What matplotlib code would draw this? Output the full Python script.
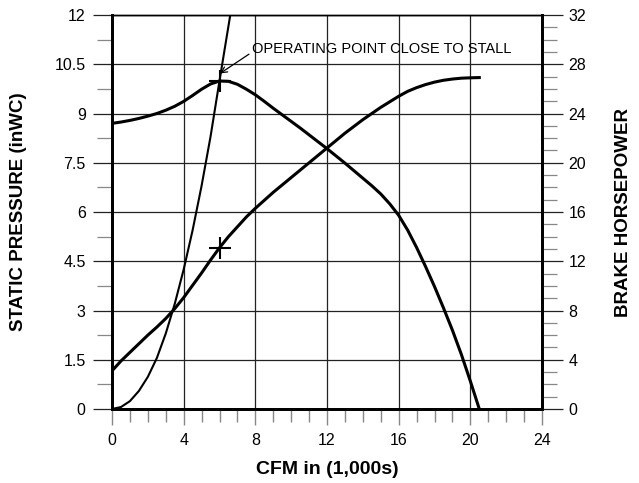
import matplotlib
matplotlib.use("Agg")
import matplotlib.pyplot as plt
from matplotlib.ticker import MultipleLocator

plt.rcParams['font.family'] = ['Liberation Sans', 'DejaVu Sans']

# fan static pressure curve (inWC) vs CFM (1,000s)
sp_cfm = [0, 0.5, 1, 1.5, 2, 2.5, 3, 3.5, 4, 4.5, 5, 5.5, 6, 6.5, 7, 7.5, 8,
          8.5, 9, 9.5, 10, 10.5, 11, 11.5, 12, 12.5, 13, 13.5, 14, 14.5, 15,
          15.5, 16, 16.5, 17, 17.5, 18, 18.5, 19, 19.5, 20, 20.5]
sp_val = [8.70, 8.74, 8.79, 8.85, 8.92, 9.00, 9.10, 9.22, 9.37, 9.55, 9.74,
          9.90, 9.99, 9.98, 9.89, 9.74, 9.57, 9.37, 9.16, 8.96, 8.76, 8.56,
          8.35, 8.14, 7.93, 7.71, 7.49, 7.26, 7.03, 6.80, 6.55, 6.25, 5.90,
          5.45, 4.92, 4.34, 3.73, 3.08, 2.40, 1.66, 0.85, 0.0]

# brake horsepower curve vs CFM
bhp_cfm = [0, 0.5, 1, 1.5, 2, 2.5, 3, 3.5, 4, 4.5, 5, 5.5, 6, 6.5, 7, 7.5, 8,
           8.5, 9, 9.5, 10, 10.5, 11, 11.5, 12, 12.5, 13, 13.5, 14, 14.5, 15,
           15.5, 16, 16.5, 17, 17.5, 18, 18.5, 19, 19.5, 20, 20.5]
bhp_val = [3.1, 3.9, 4.6, 5.3, 6.0, 6.65, 7.35, 8.15, 9.05, 10.05, 11.05,
           12.1, 13.1, 14.0, 14.8, 15.6, 16.3, 16.95, 17.6, 18.2, 18.8, 19.4,
           20.0, 20.6, 21.2, 21.8, 22.4, 22.95, 23.5, 24.0, 24.5, 24.95, 25.4,
           25.8, 26.1, 26.35, 26.55, 26.7, 26.8, 26.87, 26.9, 26.92]

# system curve
sys_cfm = [0, 0.5, 1, 1.5, 2, 2.5, 3, 3.5, 4, 4.5, 5, 5.5, 6, 6.3, 6.6]
sys_val = [0, 0.06, 0.24, 0.55, 0.98, 1.55, 2.3, 3.2, 4.25, 5.45, 6.8, 8.3,
           10.0, 11.0, 12.0]

op_point = (6.0, 10.0)
bhp_point = (6.0, 13.1)
y_ticks = [0, 1.5, 3, 4.5, 6, 7.5, 9, 10.5, 12]
y_labels = ['0', '1.5', '3', '4.5', '6', '7.5', '9', '10.5', '12']

fig = plt.figure(figsize=(6.39, 4.83), dpi=100)
ax = fig.add_axes([0.1753, 0.1532, 0.6729, 0.8157])
ax2 = ax.twinx()

ax.set_xlim(0, 24)
ax.set_ylim(0, 12)
ax2.set_ylim(0, 32)

ax.xaxis.set_major_locator(MultipleLocator(4))
ax.xaxis.set_minor_locator(MultipleLocator(1))
ax.set_yticks(y_ticks)
ax.set_yticklabels(y_labels)
ax.yaxis.set_minor_locator(MultipleLocator(0.75))
ax2.yaxis.set_major_locator(MultipleLocator(4))
ax2.yaxis.set_minor_locator(MultipleLocator(1))

ax.grid(which='major', color='#222222', lw=0.9)
ax.set_axisbelow(True)

ax.tick_params(axis='y', which='major', length=14, width=0.9, color='#222222',
               labelsize=11.5, pad=5, right=False)
ax.tick_params(axis='y', which='minor', length=10.5, width=0.9, color='#888888', right=False)
ax.tick_params(axis='x', which='major', length=11.5, width=1.0, color='#888888',
               labelsize=11.5, pad=6)
ax.tick_params(axis='x', which='minor', length=9, width=1.0, color='#888888')
ax2.tick_params(axis='y', which='major', length=15, width=0.9, color='#222222',
                labelsize=11.5, pad=4)
ax2.tick_params(axis='y', which='minor', length=10.5, width=0.9, color='#888888')

for a in (ax, ax2):
    a.spines['left'].set_linewidth(2)
    a.spines['bottom'].set_linewidth(2)
    a.spines['right'].set_linewidth(2)
    a.spines['top'].set_linewidth(1)

ax.plot(sp_cfm, sp_val, color='black', lw=2.2, solid_joinstyle='round')
ax.plot(sys_cfm, sys_val, color='black', lw=1.5, solid_joinstyle='round')
ax2.plot(bhp_cfm, bhp_val, color='black', lw=2.2, solid_joinstyle='round')

ax.plot(*op_point, marker='+', ms=16, mew=1.5, color='black')
ax2.plot(*bhp_point, marker='+', ms=16, mew=1.5, color='black')

ax.annotate('OPERATING POINT CLOSE TO STALL', xy=(6.03, 10.22), xytext=(7.8, 10.95),
            fontsize=10.5, va='center', ha='left',
            arrowprops=dict(arrowstyle='->', color='black', lw=0.9,
                            shrinkA=0, shrinkB=0, relpos=(0, 0.3)))

ax.set_xlabel('CFM in (1,000s)', fontsize=14, fontweight='bold', labelpad=9)
ax.set_ylabel('STATIC PRESSURE (inWC)', fontsize=13.5, fontweight='bold', labelpad=20)
ax2.set_ylabel('BRAKE HORSEPOWER', fontsize=13.5, fontweight='bold', labelpad=21)

fig.savefig('out.png', dpi=100)
